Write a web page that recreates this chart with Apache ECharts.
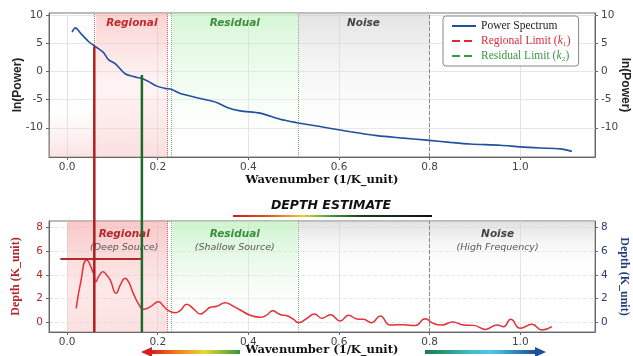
<!DOCTYPE html>
<html><head><meta charset="utf-8">
<script src="https://cdn.jsdelivr.net/npm/echarts@6/dist/echarts.min.js"></script>
<style>html,body{margin:0;padding:0;background:#fff}#c{width:633px;height:356px}</style>
</head><body><div id="c"></div>
<script>
// ---- data ----
const psK  = [0.011,0.018,0.032,0.049,0.063,0.080,0.091,0.106,0.128,0.146,0.165,0.180,0.198,0.216,0.231,0.250,0.294,0.330,0.353,0.382,0.426,0.470,0.507,0.566,0.625,0.684,0.735,0.794,0.845,0.890,0.956,1.000,1.044,1.088,1.114];
const psLn = [7.0,7.75,6.6,5.2,4.4,3.4,2.1,1.4,-0.4,-0.9,-1.25,-1.8,-2.6,-3.0,-3.2,-3.9,-4.8,-5.5,-6.4,-7.0,-7.4,-8.5,-9.1,-9.9,-10.7,-11.4,-11.8,-12.2,-12.6,-12.9,-13.1,-13.4,-13.6,-13.75,-14.2];
const dK = [0.020,0.030,0.043,0.058,0.063,0.070,0.079,0.087,0.095,0.108,0.118,0.128,0.136,0.143,0.150,0.157,0.168,0.183,0.202,0.212,0.220,0.238,0.250,0.264,0.280,0.294,0.305,0.316,0.330,0.349,0.365,0.382,0.404,0.426,0.440,0.454,0.465,0.474,0.485,0.498,0.511,0.528,0.546,0.562,0.581,0.603,0.621,0.640,0.654,0.672,0.691,0.713,0.742,0.768,0.790,0.808,0.827,0.851,0.875,0.897,0.923,0.949,0.963,0.979,1.000,1.026,1.048,1.070];
const dDepth = [1.18,3.4,5.27,4.14,3.43,3.9,4.28,4.0,3.58,2.45,3.2,3.72,3.4,2.73,2.1,1.6,1.1,1.3,1.74,1.4,1.1,0.81,1.0,1.52,1.1,0.70,0.95,1.27,1.35,1.66,1.4,1.04,0.6,0.42,0.6,0.98,0.75,0.62,0.56,0.3,-0.03,0.3,0.70,0.34,0.64,0.11,0.59,0.28,0.25,-0.03,0.53,-0.23,-0.2,-0.28,0.3,-0.09,-0.23,0.03,-0.23,-0.26,-0.6,-0.23,-0.37,0.25,-0.51,-0.17,-0.65,-0.37];
const xTicks = [0,0.2,0.4,0.6,0.8,1.0];
const topYTicks = [-10,-5,0,5,10];
const botYTicks = [0,2,4,6,8];
const xRange = [-0.04, 1.165];
const topYRange = [-15.2, 10.4];
const botYRange = [-0.82, 8.56];
const regStartTop = 0.064, k1 = 0.222, resStart = 0.232, k2 = 0.508, noiseK = 0.8, noiseLabelEnd = 1.1;
const redMark = [0.06, 4.4], greenMark = [0.165, -0.6];
const depthLevel = 5.35, depthLevelSpan = [-0.015, 0.165];

const chart = echarts.init(document.getElementById('c'));
const lg = (stops) => ({type:'linear',x:0,y:0,x2:0,y2:1,colorStops:stops.map(s=>({offset:s[0],color:s[1]}))});
const tickLbl = {fontFamily:'DejaVu Sans', fontSize:10.5, color:'#444'};
function xAxisCfg(gi, gap){
  return {type:'value', gridIndex:gi, min:xRange[0], max:xRange[1],
    name:'Wavenumber (1/K_unit)', nameLocation:'middle', nameGap:gap, nameMoveOverlap:false,
    nameTextStyle:{fontFamily:'DejaVu Serif', fontWeight:'bold', fontSize:11.5, color:'#111'},
    axisLine:{onZero:false, lineStyle:{color:'#666'}},
    axisTick:{show:true, length:3, customValues:xTicks, lineStyle:{color:'#666'}},
    axisLabel:Object.assign({customValues:xTicks, margin:5, formatter:v=>v.toFixed(1)}, tickLbl),
    splitLine:{show:true, lineStyle:{color:'#e2e2e2'}}};
}
function yAxisCfg(gi, pos, range, ticks, name, nameColor, lblColor, nameFont, gap, dashed){
  return {type:'value', gridIndex:gi, position:pos, min:range[0], max:range[1],
    name:name, nameLocation:'middle', nameGap:gap, nameMoveOverlap:false, nameRotate: pos==='right'? -90 : 90,
    nameTextStyle:{fontFamily:nameFont, fontWeight:'bold', fontSize:12, color:nameColor},
    axisLine:{show:true, onZero:false, lineStyle:{color:'#666'}},
    axisTick:{show:true, length:3, customValues:ticks, lineStyle:{color:'#666'}},
    axisLabel:Object.assign({}, tickLbl, {customValues:ticks, color:lblColor, margin:6}),
    splitLine:{show: pos==='left', lineStyle:{color:'#e6e6e6', type: dashed?'dashed':'solid'}}};
}
const zoneLbl = (txt, col) => ({show:true, position:'insideTop', distance:5, formatter:txt,
  fontFamily:'DejaVu Sans', fontStyle:'italic', fontWeight:'bold', fontSize:10.5, color:col});
const zoneLbl2 = (t, s, col) => ({show:true, position:'insideTop', distance:6,
  formatter:'{t|'+t+'}\n{s|'+s+'}',
  rich:{t:{fontFamily:'DejaVu Sans', fontStyle:'italic', fontWeight:'bold', fontSize:10.5, color:col, lineHeight:14},
        s:{fontFamily:'DejaVu Sans', fontStyle:'italic', fontSize:9.5, color:'#555', lineHeight:14}}});

const option = {
  animation:false,
  backgroundColor:'#fff',
  grid:[
    {left:49, right:38, top:13, height:144, show:true, borderColor:'#777', borderWidth:1, containLabel:false, outerBoundsMode:'none'},
    {left:49, right:38, top:221, height:111, show:true, borderColor:'#777', borderWidth:1, containLabel:false, outerBoundsMode:'none'}
  ],
  xAxis:[xAxisCfg(0, 17), xAxisCfg(1, 12)],
  yAxis:[
    yAxisCfg(0,'left',topYRange,topYTicks,'ln(Power)','#222','#444','Liberation Sans',25,false),
    yAxisCfg(0,'right',topYRange,topYTicks,'ln(Power)','#222','#444','Liberation Sans',24,false),
    yAxisCfg(1,'left',botYRange,botYTicks,'Depth (K_unit)','#b3262b','#b3262b','Liberation Serif',27,true),
    yAxisCfg(1,'right',botYRange,botYTicks,'Depth (K_unit)','#1f3f7f','#2a3f6a','Liberation Serif',23,true)
  ],
  legend:{
    orient:'vertical', left:443, top:16, padding:[4,8,4,8], itemGap:3, itemWidth:24, itemHeight:10,
    backgroundColor:'#fff', borderColor:'#888', borderWidth:1, borderRadius:3,
    itemStyle:{opacity:0},
    textStyle:{fontFamily:'Liberation Serif', fontSize:11.5, color:'#222',
      rich:{i:{fontStyle:'italic', fontFamily:'Liberation Serif', fontSize:11.5}}},
    formatter:n=> n.replace('(k₁)','({i|k}₁)').replace('(k₂)','({i|k}₂)'),
    data:[{name:'Power Spectrum', textStyle:{color:'#222'}},
          {name:'Regional Limit (k₁)', textStyle:{color:'#d62d3a', rich:{i:{color:'#d62d3a'}}}},
          {name:'Residual Limit (k₂)', textStyle:{color:'#3a9a40', rich:{i:{color:'#3a9a40'}}}}]
  },
  series:[
    {name:'Power Spectrum', type:'line', xAxisIndex:0, yAxisIndex:0, smooth:0.3, symbol:'none', z:5,
     lineStyle:{color:'#23509e', width:1.6}, itemStyle:{color:'#23509e'},
     data: psK.map((k,i)=>[k, psLn[i]]),
     markArea:{silent:true, data:[
       [{xAxis:xRange[0], itemStyle:{color:lg([[0,'rgba(255,255,255,0)'],[0.55,'rgba(255,255,255,0)'],[1,'rgba(246,190,190,0.45)']])}},{xAxis:regStartTop}],
       [{xAxis:regStartTop, itemStyle:{color:lg([[0,'rgba(248,172,172,0.55)'],[0.5,'rgba(252,222,222,0.35)'],[1,'rgba(248,192,192,0.5)']])}, label:zoneLbl('Regional','#c0282d')},{xAxis:k1}],
       [{xAxis:resStart, itemStyle:{color:lg([[0,'rgba(185,240,185,0.6)'],[0.6,'rgba(225,248,225,0.3)'],[1,'rgba(255,255,255,0)']])}, label:zoneLbl('Residual','#3c8d3c')},{xAxis:k2}],
       [{xAxis:k2, itemStyle:{color:lg([[0,'rgba(200,200,200,0.5)'],[0.5,'rgba(235,235,235,0.3)'],[1,'rgba(255,255,255,0)']])}, label:zoneLbl('Noise','#444')},{xAxis:noiseK}]
     ]},
     markLine:{silent:true, symbol:'none', label:{show:false}, data:[{xAxis:noiseK}], lineStyle:{color:'#888', type:'dashed', width:1}}
    },
    {name:'Regional Limit (k₁)', type:'line', xAxisIndex:0, yAxisIndex:0, symbol:'none', data:[],
     lineStyle:{color:'#d62d3a', type:'dashed', width:1.5}, itemStyle:{color:'#d62d3a'},
     markLine:{silent:true, symbol:'none', label:{show:false}, data:[{xAxis:regStartTop},{xAxis:k1}], lineStyle:{color:'#e06070', type:'dotted', width:1}}},
    {name:'Residual Limit (k₂)', type:'line', xAxisIndex:0, yAxisIndex:0, symbol:'none', data:[],
     lineStyle:{color:'#3a9a40', type:'dashed', width:1.5}, itemStyle:{color:'#3a9a40'},
     markLine:{silent:true, symbol:'none', label:{show:false}, data:[{xAxis:resStart},{xAxis:k2}], lineStyle:{color:'#70c070', type:'dotted', width:1}}},
    {name:'Depth', type:'line', xAxisIndex:1, yAxisIndex:2, smooth:0.5, symbol:'none', z:5,
     lineStyle:{color:'#e3303a', width:1.5}, itemStyle:{color:'#e3303a'},
     data: dK.map((k,i)=>[k, dDepth[i]]),
     markArea:{silent:true, data:[
       [{xAxis:0, itemStyle:{color:lg([[0,'rgba(245,165,165,0.6)'],[0.6,'rgba(250,205,205,0.45)'],[1,'rgba(248,195,195,0.5)']])}},{xAxis:k1}],
       [{xAxis:0.03, itemStyle:{color:'rgba(0,0,0,0)'}, label:zoneLbl2('Regional','(Deep Source)','#b3262b')},{xAxis:k1}],
       [{xAxis:resStart, itemStyle:{color:lg([[0,'rgba(180,238,180,0.65)'],[0.5,'rgba(220,245,220,0.35)'],[1,'rgba(255,255,255,0)']])}, label:zoneLbl2('Residual','(Shallow Source)','#3c8d3c')},{xAxis:k2}],
       [{xAxis:k2, itemStyle:{color:lg([[0,'rgba(200,200,200,0.55)'],[0.25,'rgba(235,235,235,0.3)'],[0.5,'rgba(255,255,255,0)']])}},{xAxis:xRange[1]}],
       [{xAxis:noiseK, itemStyle:{color:'rgba(0,0,0,0)'}, label:zoneLbl2('Noise','(High Frequency)','#444')},{xAxis:noiseLabelEnd}]
     ]},
     markLine:{silent:true, symbol:'none', label:{show:false}, data:[
       {xAxis:k1, lineStyle:{color:'#e06070', type:'dotted'}},
       {xAxis:resStart, lineStyle:{color:'#70c070', type:'dotted'}},
       {xAxis:k2, lineStyle:{color:'#70c070', type:'dotted'}},
       {xAxis:noiseK, lineStyle:{color:'#888', type:'dashed'}}], lineStyle:{width:1}}
    },
    {name:'Depth level', type:'line', xAxisIndex:1, yAxisIndex:2, symbol:'none', z:6,
     lineStyle:{color:'#b22a2a', width:2}, data:[[depthLevelSpan[0], depthLevel],[depthLevelSpan[1], depthLevel]]}
  ]
};
chart.setOption(option);

function arrowHead(x, y, dir, col){
  return {type:'polygon', z:100, shape:{points: dir<0 ? [[x,y],[x+11,y-5],[x+11,y+5]] : [[x,y],[x-11,y-5],[x-11,y+5]]}, style:{fill:col}};
}
const pR1 = chart.convertToPixel({xAxisIndex:0, yAxisIndex:0}, redMark);
const pR2 = chart.convertToPixel({xAxisIndex:1, yAxisIndex:2}, [redMark[0], botYRange[0]]);
const pG1 = chart.convertToPixel({xAxisIndex:0, yAxisIndex:0}, greenMark);
const pG2 = chart.convertToPixel({xAxisIndex:1, yAxisIndex:2}, [greenMark[0], botYRange[0]]);
chart.setOption({graphic:[
  {type:'line', z:50, shape:{x1:pR1[0], y1:pR1[1], x2:pR2[0], y2:pR2[1]}, style:{stroke:'#b01e1e', lineWidth:2.5}},
  {type:'line', z:50, shape:{x1:pG1[0], y1:pG1[1], x2:pG2[0], y2:pG2[1]}, style:{stroke:'#1d6a2c', lineWidth:2.5}},
  {type:'text', z:100, x:331, y:206, style:{text:'DEPTH ESTIMATE', align:'center', verticalAlign:'middle', fontFamily:'DejaVu Sans', fontWeight:'bold', fontStyle:'italic', fontSize:12.5, fill:'#111'}},
  {type:'rect', z:100, shape:{x:233, y:215, width:199, height:2}, style:{fill:{type:'linear',x:0,y:0,x2:1,y2:0,colorStops:[{offset:0,color:'#c81e1e'},{offset:0.2,color:'#e06020'},{offset:0.35,color:'#e8d030'},{offset:0.5,color:'#3a9a3a'},{offset:0.65,color:'#1e3a1e'},{offset:1,color:'#111'}]}}},
  {type:'rect', z:100, shape:{x:151, y:350, width:89, height:4}, style:{fill:{type:'linear',x:0,y:0,x2:1,y2:0,colorStops:[{offset:0,color:'#d42020'},{offset:0.3,color:'#f08020'},{offset:0.6,color:'#e8d830'},{offset:1,color:'#2e9a3a'}]}}},
  arrowHead(141, 352, -1, '#d42020'),
  {type:'rect', z:100, shape:{x:425, y:350, width:110, height:4}, style:{fill:{type:'linear',x:0,y:0,x2:1,y2:0,colorStops:[{offset:0,color:'#1f7a45'},{offset:0.4,color:'#3fb8c8'},{offset:0.6,color:'#50c8e8'},{offset:1,color:'#1f4f9a'}]}}},
  arrowHead(546, 352, 1, '#1f4f9a')
]});
</script></body></html>
